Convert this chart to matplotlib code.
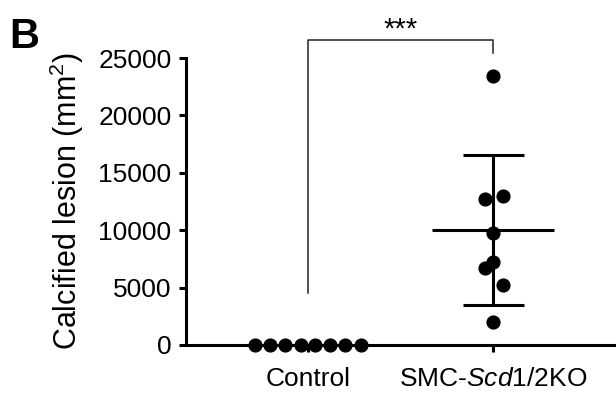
import matplotlib
matplotlib.use("Agg")
import matplotlib.pyplot as plt
import numpy as np

plt.rcParams['font.family'] = ['Liberation Sans', 'DejaVu Sans']
plt.rcParams['mathtext.fontset'] = 'custom'
plt.rcParams['mathtext.rm'] = 'Liberation Sans'
plt.rcParams['mathtext.it'] = 'Liberation Sans:italic'

categories = ['Control', r'SMC-$\mathit{Scd1/}$2KO']
control_values = [0, 0, 0, 0, 0, 0, 0, 0]
control_offsets = [-0.285, -0.205, -0.125, -0.04, 0.04, 0.12, 0.2, 0.285]
ko_values = [23430, 12720, 12980, 9780, 7200, 6710, 5250, 2030]
ko_offsets = [0, -0.045, 0.05, 0, 0, -0.047, 0.05, 0]
yticks = [0, 5000, 10000, 15000, 20000, 25000]

fig = plt.figure(figsize=(6.16, 3.93), dpi=100)
W, H = 616, 393
left, right, bottom, top = 185.5, 616, 345, 10
ppu = 287 / 25000.0
ax = fig.add_axes([left / W, (H - bottom) / H, (right - left) / W, (bottom - top) / H])

ax.set_ylim(0, (bottom - top) / ppu)
ax.set_xlim(-0.661, 1.662)

ms = 9.2
ax.plot(np.array(control_offsets), control_values, 'o', color='black', ms=ms,
        clip_on=False, zorder=5)
ax.plot(1 + np.array(ko_offsets), ko_values, 'o', color='black', ms=ms,
        clip_on=False, zorder=5)

# mean and SD for KO
m = np.mean(ko_values)
sd = np.std(ko_values, ddof=1)
lw = 2.2
ax.plot([1 - 0.33, 1 + 0.33], [m, m], color='black', lw=lw, solid_capstyle='butt')
ax.plot([1, 1], [m - sd, m + sd], color='black', lw=lw, solid_capstyle='butt')
for v in (m - sd, m + sd):
    ax.plot([1 - 0.165, 1 + 0.165], [v, v], color='black', lw=lw, solid_capstyle='butt')

# significance bracket
ax.plot([0, 0, 1, 1], [4530, 26565, 26565, 25410], color='#222222', lw=1.1,
        clip_on=False)
ax.text(0.5, 26780, '***', ha='center', va='baseline', fontsize=21)

for s in ('top', 'right'):
    ax.spines[s].set_visible(False)
ax.spines['left'].set_bounds(0, 25000)
ax.spines['left'].set_linewidth(lw)
ax.spines['bottom'].set_linewidth(lw)
ax.set_yticks(yticks)
ax.set_yticklabels([str(t) for t in yticks])
ax.set_xticks([0, 1])
ax.set_xticklabels(categories)
ax.tick_params(axis='both', width=lw, length=5, labelsize=19, colors='black')
ax.tick_params(axis='x', pad=11)
ax.tick_params(axis='y', pad=5)
ax.set_ylabel(r'Calcified lesion (mm$^2$)', fontsize=22)
ax.yaxis.set_label_coords((85.5 - left) / (right - left), (bottom - 201) / (bottom - top))

fig.text(9 / W, 1 - 48 / H, 'B', fontsize=30, fontweight='bold', ha='left', va='baseline')

fig.savefig('out.png', dpi=100)
